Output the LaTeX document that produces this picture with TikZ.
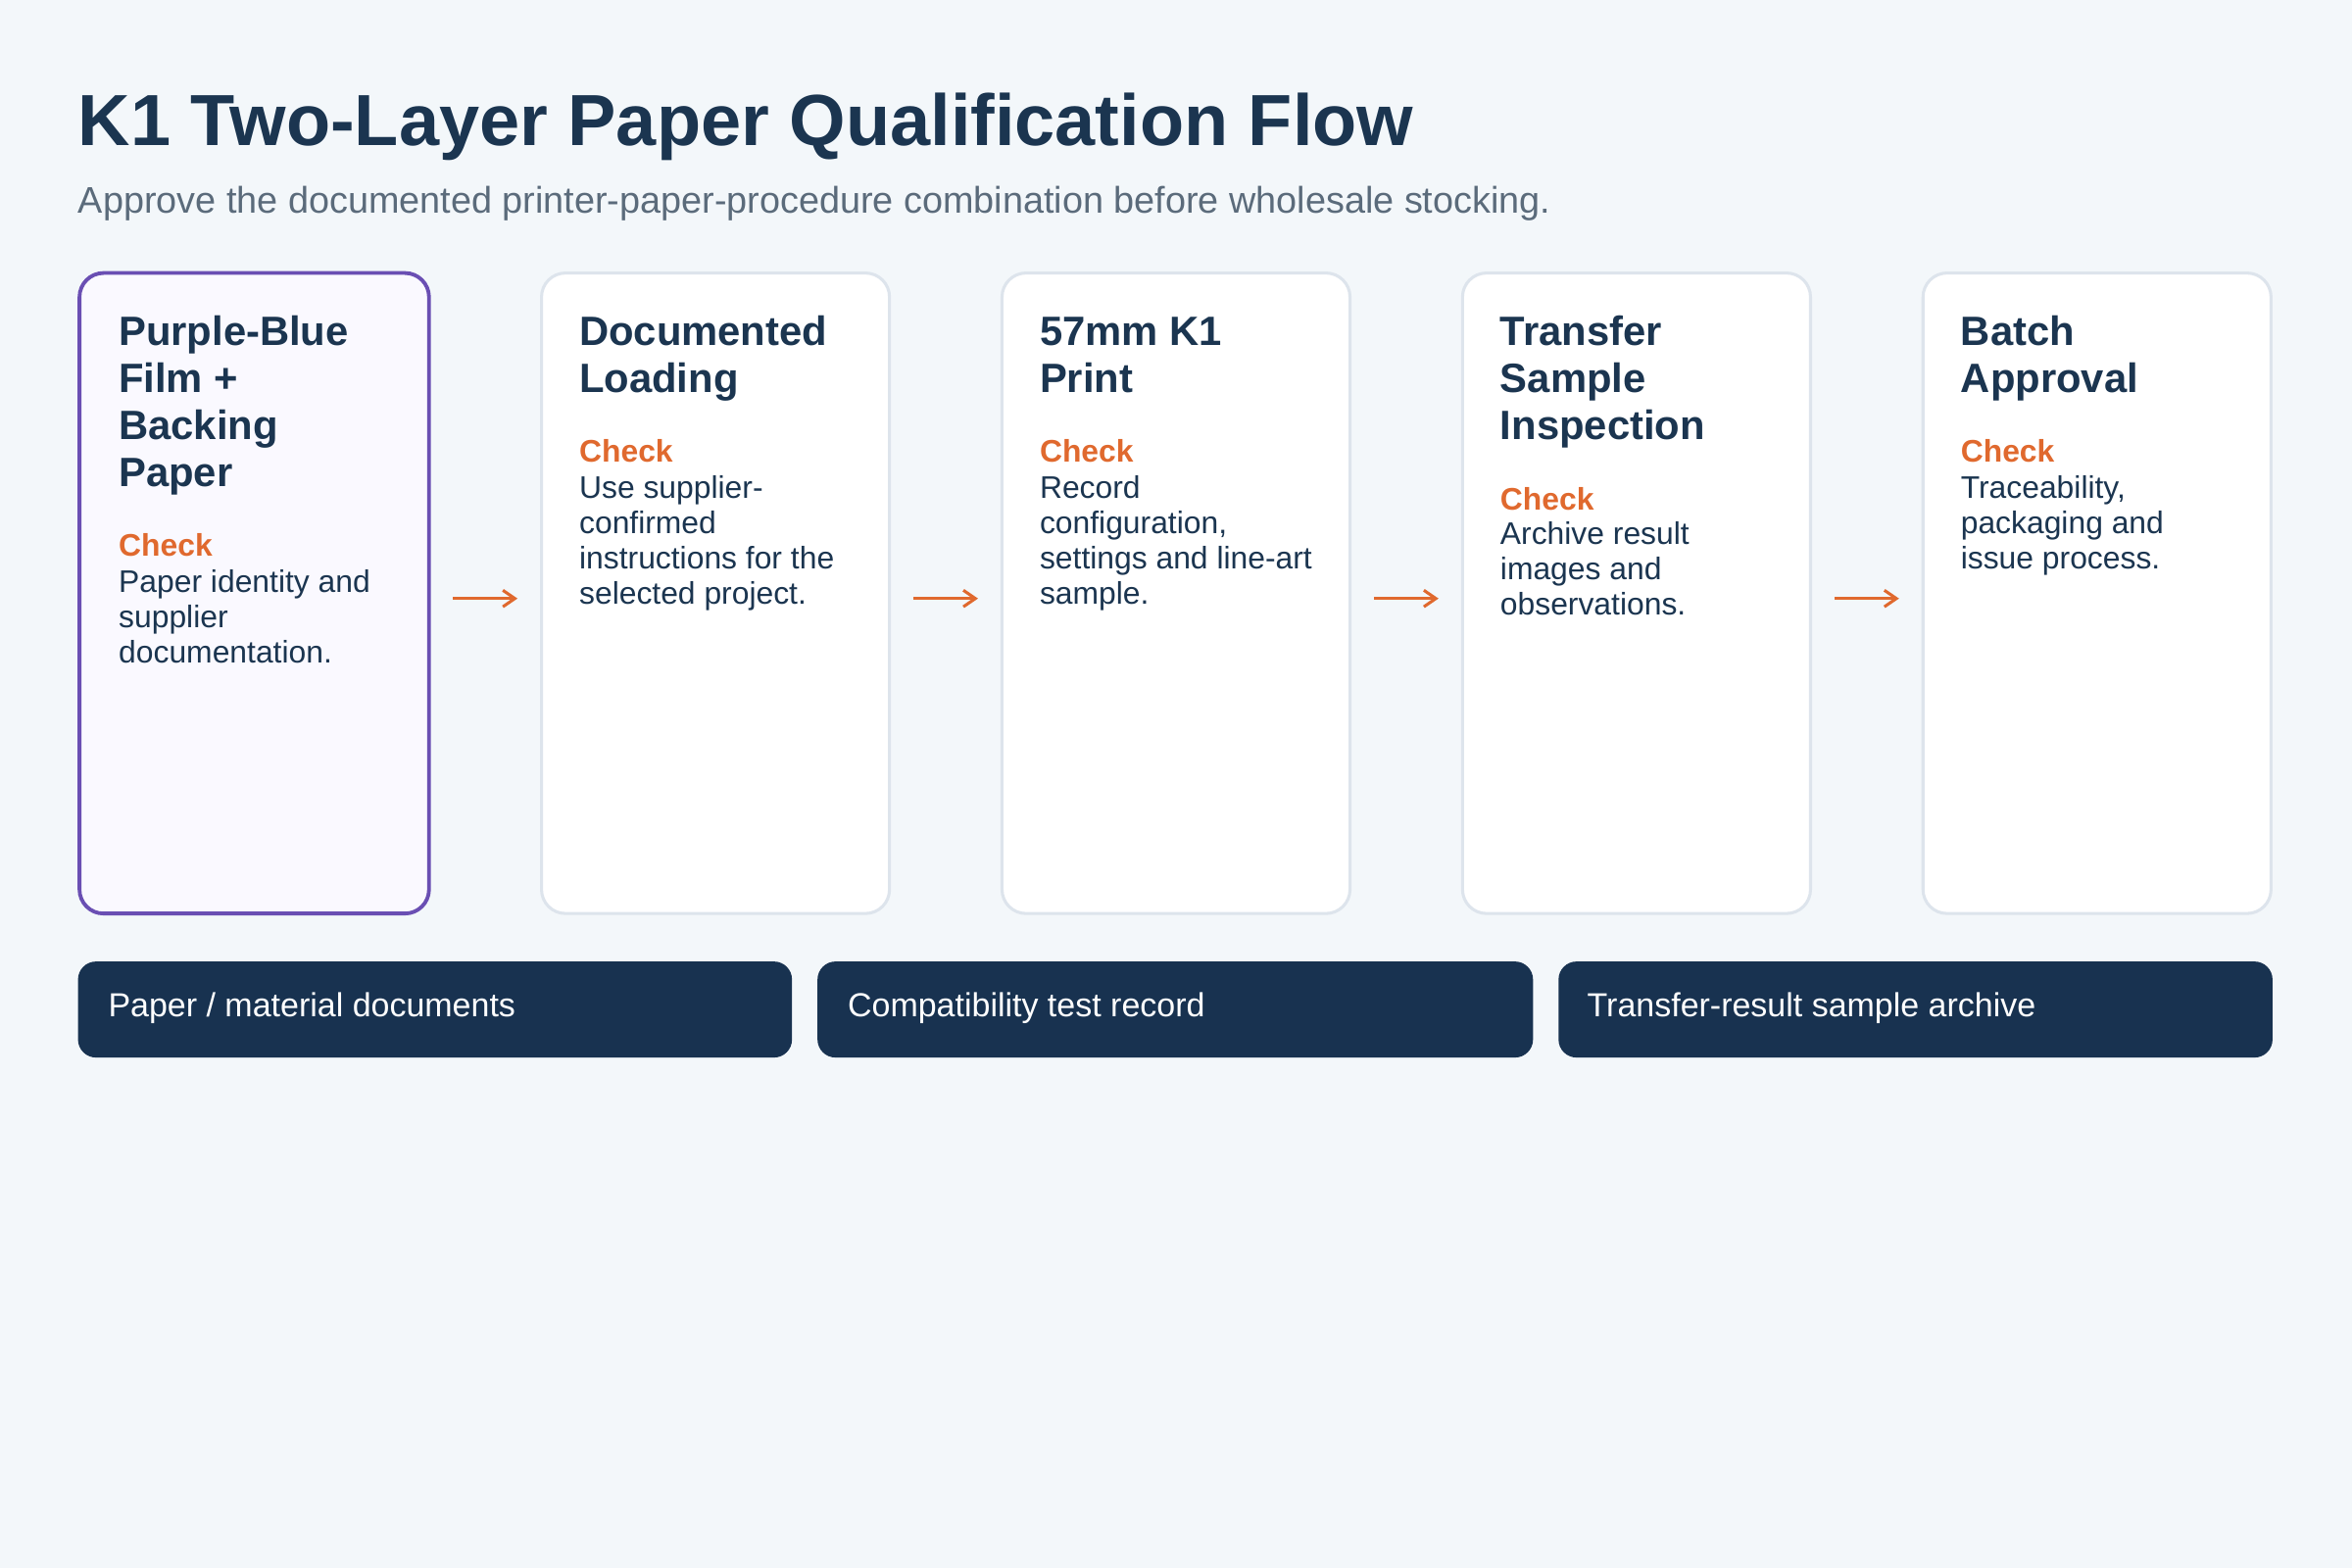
\documentclass[tikz,border=0pt]{standalone}
\usepackage{fontspec}
\setmainfont{Liberation Sans}
\usetikzlibrary{arrows.meta}
\definecolor{bg}{HTML}{F3F7FA}
\definecolor{navy}{HTML}{1B3550}
\definecolor{bar}{HTML}{183250}
\definecolor{org}{HTML}{E0692E}
\definecolor{pur}{HTML}{6A4FB3}
\definecolor{pfill}{HTML}{FAF9FF}
\definecolor{edge}{HTML}{DDE4EC}
\definecolor{sub}{HTML}{5B6B7B}
\begin{document}
\begin{tikzpicture}[x=1pt,y=-1pt,
  card/.style={draw=edge,line width=2pt,fill=white,rounded corners=16pt},
  first/.style={draw=pur,line width=2.5pt,fill=pfill,rounded corners=16pt},
  ttl/.style={anchor=base west,inner sep=0,align=left,text=navy,font=\fontsize{27.3}{31.5}\selectfont\bfseries},
  chk/.style={anchor=base west,inner sep=0,text=org,font=\fontsize{20.8}{23.5}\selectfont\bfseries},
  bdy/.style={anchor=base west,inner sep=0,align=left,text=navy,font=\fontsize{20.8}{23.5}\selectfont},
  arr/.style={draw=org,line width=2pt,-{Straight Barb[length=8pt,width=11pt]}},
  barbox/.style={fill=bar,rounded corners=12pt},
  bartxt/.style={anchor=west,inner sep=0,text=white,font=\fontsize{22.2}{26}\selectfont}]
\fill[bg] (0,0) rectangle (1568,1045);
\node[anchor=base west,inner sep=0,text=navy,font=\fontsize{48.3}{50}\selectfont\bfseries] (title) at (52,97) {K1 Two-Layer Paper Qualification Flow};
\node[anchor=base west,inner sep=0,text=sub,font=\fontsize{24.7}{28}\selectfont] (subtitle) at (52,142) {Approve the documented printer-paper-procedure combination before wholesale stocking.};
% cards
\draw[first] (53,182) rectangle (286,609) node[pos=0,inner sep=0] (c1) {};
\draw[card] (361,182) rectangle (593,609) node[pos=0,inner sep=0] (c2) {};
\draw[card] (668,182) rectangle (900,609) node[pos=0,inner sep=0] (c3) {};
\draw[card] (975,182) rectangle (1207,609) node[pos=0,inner sep=0] (c4) {};
\draw[card] (1282,182) rectangle (1514,609) node[pos=0,inner sep=0] (c5) {};
% card 1
\node[ttl] (t1) at (79,324.5) {Purple-Blue\\Film +\\Backing\\Paper};
\node[chk] (k1) at (79,371) {Check};
\node[bdy] (b1) at (79,442) {Paper identity and\\supplier\\documentation.};
% card 2
\node[ttl] (t2) at (386,261.5) {Documented\\Loading};
\node[chk] (k2) at (386,308) {Check};
\node[bdy] (b2) at (386,402.5) {Use supplier-\\confirmed\\instructions for the\\selected project.};
% card 3
\node[ttl] (t3) at (693,261.5) {57mm K1\\Print};
\node[chk] (k3) at (693,308) {Check};
\node[bdy] (b3) at (693,402.5) {Record\\configuration,\\settings and line-art\\sample.};
% card 4
\node[ttl] (t4) at (1000,293) {Transfer\\Sample\\Inspection};
\node[chk] (k4) at (1000,340) {Check};
\node[bdy] (b4) at (1000,410) {Archive result\\images and\\observations.};
% card 5
\node[ttl] (t5) at (1307,261.5) {Batch\\Approval};
\node[chk] (k5) at (1307,308) {Check};
\node[bdy] (b5) at (1307,379) {Traceability,\\packaging and\\issue process.};
% arrows
\coordinate (a1s) at (302,399); \coordinate (a1e) at (345,399);
\coordinate (a2s) at (609,399); \coordinate (a2e) at (652,399);
\coordinate (a3s) at (916,399); \coordinate (a3e) at (959,399);
\coordinate (a4s) at (1223,399); \coordinate (a4e) at (1266,399);
\draw[arr] (a1s) -- (a1e);
\draw[arr] (a2s) -- (a2e);
\draw[arr] (a3s) -- (a3e);
\draw[arr] (a4s) -- (a4e);
% bars
\fill[barbox] (52,641) rectangle (528,705);
\fill[barbox] (545,641) rectangle (1022,705);
\fill[barbox] (1039,641) rectangle (1515,705);
\node[bartxt] (r1) at (72,672) {Paper / material documents};
\node[bartxt] (r2) at (565,672) {Compatibility test record};
\node[bartxt] (r3) at (1058,672) {Transfer-result sample archive};
\end{tikzpicture}
\end{document}
